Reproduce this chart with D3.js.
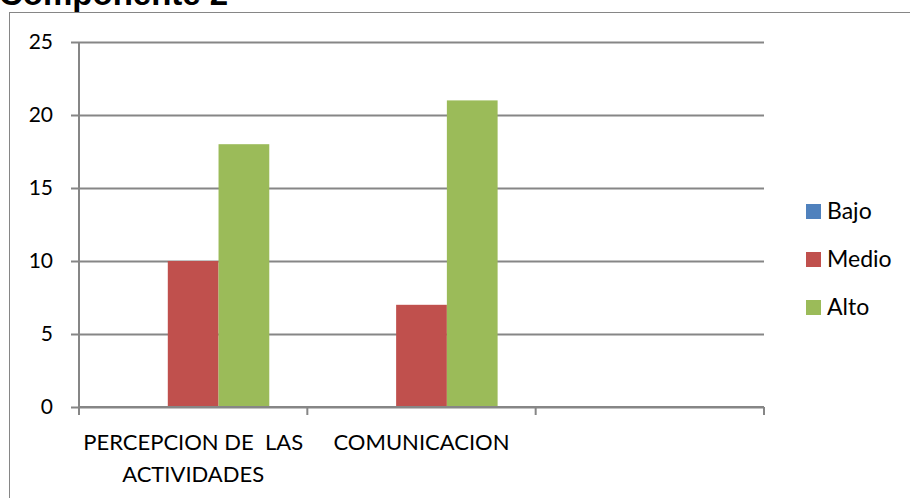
<!DOCTYPE html>
<html>
<head>
<meta charset="utf-8">
<script src="https://cdn.jsdelivr.net/npm/d3@7"></script>
<style>
  body { margin: 0; background: #fff; }
  svg text { font-family: Lato, "Open Sans", sans-serif; fill: #000; }
</style>
</head>
<body>
<div id="chart"></div>
<script>
var svgWidth = 910;
var svgHeight = 498;

// chart data
var categories = ["PERCEPCION DE  LAS|ACTIVIDADES", "COMUNICACION", ""];
var seriesNames = ["Bajo", "Medio", "Alto"];
var bajo = [0, 0, null];
var medio = [10, 7, null];
var alto = [18, 21, null];
var yTicks = [0, 5, 10, 15, 20, 25];
var colors = ["#4F81BD", "#C0504D", "#9BBB59"];

var margin = { top: 42, right: 146, bottom: 91, left: 79 };
var width = svgWidth - margin.left - margin.right;
var height = svgHeight - margin.top - margin.bottom;

var svg = d3.select("#chart").append("svg")
  .attr("width", svgWidth)
  .attr("height", svgHeight);

// title, mostly cut off by the top edge (as in the original)
svg.append("text")
  .attr("x", -1)
  .attr("y", 5)
  .style("font-family", "'Liberation Sans', Arial, sans-serif")
  .style("font-weight", "bold")
  .style("font-size", "33px")
  .text("Componente 2");

// outer chart border (runs off the right and bottom edges)
svg.append("rect")
  .attr("x", 9.5)
  .attr("y", 12.5)
  .attr("width", 1000)
  .attr("height", 600)
  .attr("fill", "none")
  .attr("stroke", "#868686")
  .attr("stroke-width", 1);

var chart = svg.append("g")
  .attr("transform", `translate(${margin.left}, ${margin.top})`);

var x0 = d3.scaleBand()
  .domain(d3.range(categories.length))
  .range([0, width])
  .paddingInner(0)
  .paddingOuter(0);

// 3 bars + 150% gap per category
var barW = x0.bandwidth() / 4.5;
var x1 = d3.scaleBand()
  .domain(seriesNames)
  .range([barW * 0.75, barW * 3.75]);

var y = d3.scaleLinear()
  .domain([0, 25])
  .range([height, 0]);

// gridlines + y axis ticks
var leftAxis = d3.axisLeft(y)
  .tickValues(yTicks)
  .tickSize(-width - 8)
  .tickFormat(d3.format("d"));

var yAxis = chart.append("g")
  .attr("transform", "translate(-8,0)")
  .call(leftAxis);
yAxis.select(".domain").remove();
yAxis.selectAll(".tick line")
  .attr("stroke", "#868686")
  .attr("stroke-width", 2);
yAxis.selectAll(".tick text")
  .attr("x", -18)
  .style("font-size", "21px");

// vertical axis line
chart.append("line")
  .attr("x1", 0).attr("x2", 0)
  .attr("y1", 0).attr("y2", height)
  .attr("stroke", "#868686")
  .attr("stroke-width", 2);

// bars
var series = [bajo, medio, alto];
series.forEach(function(vals, si) {
  chart.append("g").selectAll("rect")
    .data(vals.map((v, i) => ({ v: v, i: i })).filter(d => d.v != null))
    .enter().append("rect")
    .attr("x", d => x0(d.i) + x1(seriesNames[si]))
    .attr("width", x1.bandwidth())
    .attr("y", d => y(d.v))
    .attr("height", d => height - y(d.v))
    .attr("fill", colors[si]);
});

// x axis with category boundary ticks
var boundaries = d3.range(categories.length + 1);
chart.append("g").selectAll("line")
  .data(boundaries)
  .enter().append("line")
  .attr("x1", d => d * x0.bandwidth())
  .attr("x2", d => d * x0.bandwidth())
  .attr("y1", height)
  .attr("y2", height + 8)
  .attr("stroke", "#868686")
  .attr("stroke-width", 2);

chart.append("line")
  .attr("x1", 0).attr("x2", width)
  .attr("y1", height).attr("y2", height)
  .attr("stroke", "#868686")
  .attr("stroke-width", 2);

// category labels
categories.forEach(function(c, i) {
  var lines = c.split("|");
  var t = chart.append("text")
    .attr("text-anchor", "middle")
    .attr("x", x0(i) + x0.bandwidth() / 2)
    .attr("y", height + 43)
    .style("font-size", "22px")
    .style("white-space", "pre");
  lines.forEach(function(l, li) {
    t.append("tspan")
      .attr("x", x0(i) + x0.bandwidth() / 2)
      .attr("dy", li === 0 ? 0 : 32)
      .text(l);
  });
});

// legend
var legend = svg.append("g")
  .attr("transform", "translate(806, 204)");
seriesNames.forEach(function(s, i) {
  var g = legend.append("g").attr("transform", `translate(0, ${i * 48})`);
  g.append("rect")
    .attr("width", 15)
    .attr("height", 15)
    .attr("fill", colors[i]);
  g.append("text")
    .attr("x", 21)
    .attr("y", 15)
    .style("font-size", "23px")
    .text(s);
});
</script>
</body>
</html>
